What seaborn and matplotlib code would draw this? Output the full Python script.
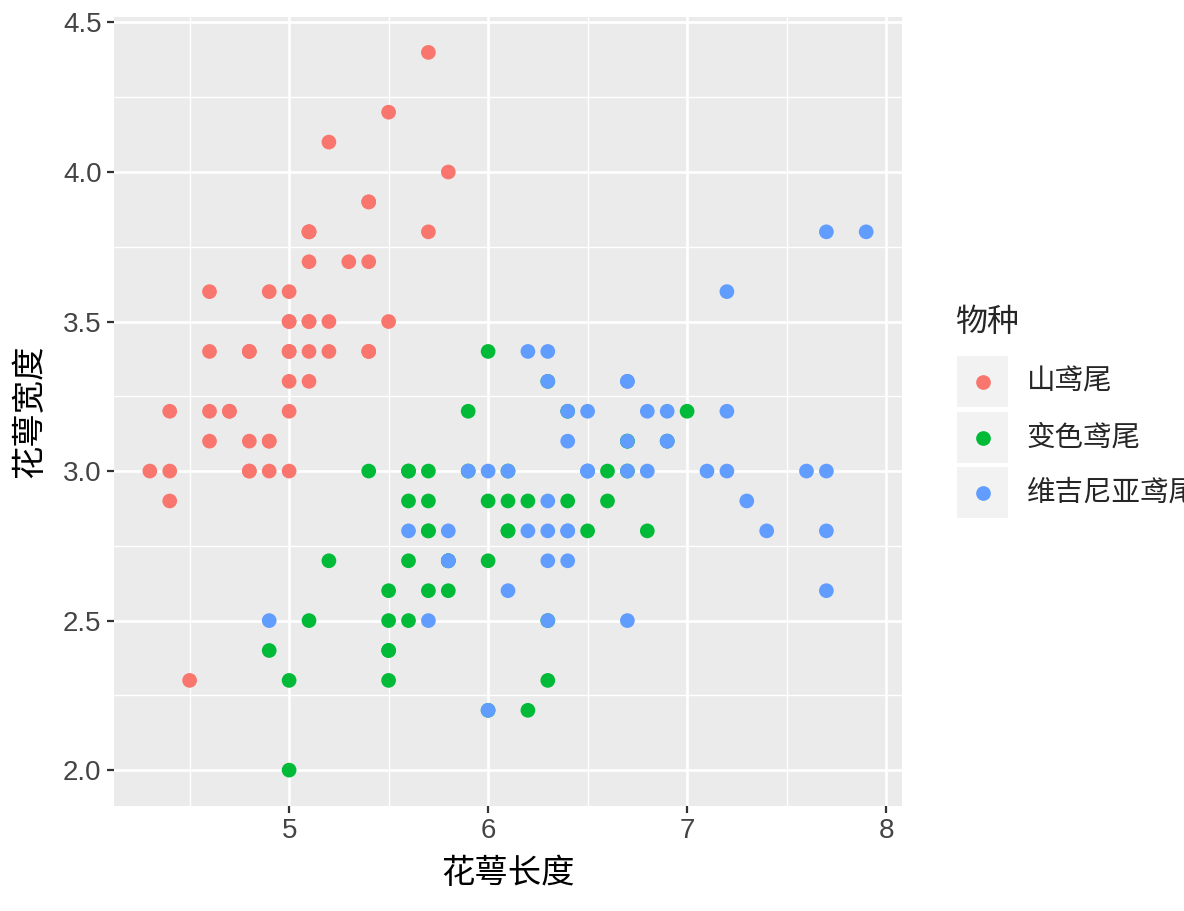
import matplotlib
matplotlib.use("Agg")
import matplotlib.pyplot as plt
import seaborn as sns
import pandas as pd
import numpy as np
from matplotlib.patches import Rectangle

species_names = ["山鸢尾", "变色鸢尾", "维吉尼亚鸢尾"]
colors = ["#F8766D", "#00BA38", "#619CFF"]

setosa_len = [5.1,4.9,4.7,4.6,5.0,5.4,4.6,5.0,4.4,4.9,5.4,4.8,4.8,4.3,5.8,5.7,5.4,5.1,5.7,5.1,
              5.4,5.1,4.6,5.1,4.8,5.0,5.0,5.2,5.2,4.7,4.8,5.4,5.2,5.5,4.9,5.0,5.5,4.9,4.4,5.1,
              5.0,4.5,4.4,5.0,5.1,4.8,5.1,4.6,5.3,5.0]
setosa_wid = [3.5,3.0,3.2,3.1,3.6,3.9,3.4,3.4,2.9,3.1,3.7,3.4,3.0,3.0,4.0,4.4,3.9,3.5,3.8,3.8,
              3.4,3.7,3.6,3.3,3.4,3.0,3.4,3.5,3.4,3.2,3.1,3.4,4.1,4.2,3.1,3.2,3.5,3.6,3.0,3.4,
              3.5,2.3,3.2,3.5,3.8,3.0,3.8,3.2,3.7,3.3]
versi_len = [7.0,6.4,6.9,5.5,6.5,5.7,6.3,4.9,6.6,5.2,5.0,5.9,6.0,6.1,5.6,6.7,5.6,5.8,6.2,5.6,
             5.9,6.1,6.3,6.1,6.4,6.6,6.8,6.7,6.0,5.7,5.5,5.5,5.8,6.0,5.4,6.0,6.7,6.3,5.6,5.5,
             5.5,6.1,5.8,5.0,5.6,5.7,5.7,6.2,5.1,5.7]
versi_wid = [3.2,3.2,3.1,2.3,2.8,2.8,3.3,2.4,2.9,2.7,2.0,3.0,2.2,2.9,2.9,3.1,3.0,2.7,2.2,2.5,
             3.2,2.8,2.5,2.8,2.9,3.0,2.8,3.0,2.9,2.6,2.4,2.4,2.7,2.7,3.0,3.4,3.1,2.3,3.0,2.5,
             2.6,3.0,2.6,2.3,2.7,3.0,2.9,2.9,2.5,2.8]
virg_len = [6.3,5.8,7.1,6.3,6.5,7.6,4.9,7.3,6.7,7.2,6.5,6.4,6.8,5.7,5.8,6.4,6.5,7.7,7.7,6.0,
            6.9,5.6,7.7,6.3,6.7,7.2,6.2,6.1,6.4,7.2,7.4,7.9,6.4,6.3,6.1,7.7,6.3,6.4,6.0,6.9,
            6.7,6.9,5.8,6.8,6.7,6.7,6.3,6.5,6.2,5.9]
virg_wid = [3.3,2.7,3.0,2.9,3.0,3.0,2.5,2.9,2.5,3.6,3.2,2.7,3.0,2.5,2.8,3.2,3.0,3.8,2.6,2.2,
            3.2,2.8,2.8,2.7,3.3,3.2,2.8,3.0,2.8,3.0,2.8,3.8,2.8,2.8,2.6,3.0,3.4,3.1,3.0,3.1,
            3.1,3.1,2.7,3.2,3.3,3.0,2.5,3.0,3.4,3.0]

x_ticks = [5, 6, 7, 8]
y_ticks = [2.0, 2.5, 3.0, 3.5, 4.0, 4.5]
y_tick_labels = ["2.0", "2.5", "3.0", "3.5", "4.0", "4.5"]

df = pd.DataFrame({
    "len": setosa_len + versi_len + virg_len,
    "wid": setosa_wid + versi_wid + virg_wid,
    "sp": [species_names[0]] * len(setosa_len) + [species_names[1]] * len(versi_len)
          + [species_names[2]] * len(virg_len),
})

sns.set_theme(style="white")
plt.rcParams['font.family'] = ['Liberation Sans', 'Noto Sans CJK SC', 'DejaVu Sans']
cjk = ['Noto Sans CJK SC', 'DejaVu Sans']

fig = plt.figure(figsize=(11.84, 9.11), dpi=100)
ax = fig.add_axes([114/1184, 1 - 806/911, (902-114)/1184, (806-16.5)/911])
ax.set_facecolor("#EBEBEB")

sns.scatterplot(data=df, x="len", y="wid", hue="sp", palette=colors,
                hue_order=species_names, s=112, linewidth=0, edgecolor="none",
                alpha=1, ax=ax, legend=False, zorder=3)

xmin, xmax = min(df["len"]), max(df["len"])
ymin, ymax = min(df["wid"]), max(df["wid"])
xr, yr = xmax - xmin, ymax - ymin
ax.set_xlim(xmin - 0.05 * xr, xmax + 0.05 * xr)
ax.set_ylim(ymin - 0.05 * yr, ymax + 0.05 * yr)

ax.set_xticks(x_ticks)
ax.set_xticklabels([str(t) for t in x_ticks])
ax.set_yticks(y_ticks)
ax.set_yticklabels(y_tick_labels)
ax.set_xticks([4.5, 5.5, 6.5, 7.5], minor=True)
ax.set_yticks([2.25, 2.75, 3.25, 3.75, 4.25], minor=True)
ax.grid(True, which="major", color="white", linewidth=1.9, zorder=1)
ax.grid(True, which="minor", color="white", linewidth=0.95, zorder=1)
ax.set_axisbelow(True)
for s in ax.spines.values():
    s.set_visible(False)
ax.tick_params(axis="both", which="major", length=5, width=1.6, color="#333333",
               labelsize=20, labelcolor="#444444", pad=4, direction="out",
               bottom=True, left=True)
ax.tick_params(axis="both", which="minor", length=0)

ax.set_xlabel("花萼长度", fontsize=24, family=cjk, color="black", va="center")
ax.set_ylabel("花萼宽度", fontsize=24, family=cjk, color="black", va="center")
ax.xaxis.set_label_coords(0.5, (806 - 873) / 789.5)
ax.yaxis.set_label_coords((30 - 114) / 788, 0.5)

# legend
fig.text(955/1184, 1 - 322/911, "物种", fontsize=23, family=cjk, va="center", ha="left")
lax = fig.add_axes([0, 0, 1, 1], facecolor="none")
lax.set_xlim(0, 1184)
lax.set_ylim(911, 0)
lax.axis("off")
key_tops = [356, 412, 467]
for i, (name, c) in enumerate(zip(species_names, colors)):
    top = key_tops[i]
    lax.add_patch(Rectangle((957, top), 51, 51, facecolor="#F2F2F2", edgecolor="none"))
    lax.scatter([982.5], [top + 25.5], s=112, color=c, linewidth=0)
    lax.text(1027, top + 26, name, fontsize=20.5, family=cjk, va="center", ha="left")

fig.savefig("out.png", dpi=100)
